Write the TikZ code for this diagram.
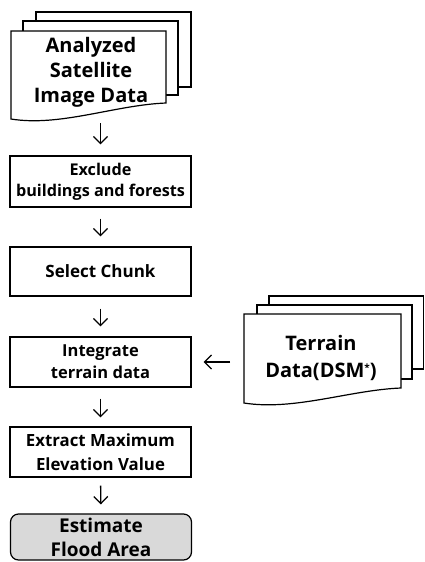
\documentclass[tikz,border=0pt]{standalone}
\usepackage{fontspec}
\setmainfont{Open Sans}
\usetikzlibrary{arrows.meta}
\begin{document}
\begin{tikzpicture}[x=1pt,y=-1pt,
  stepbox/.style={draw, line width=1.2pt, minimum width=181pt, inner sep=0pt, align=center},
  page/.style={draw, line width=1.2pt, fill=white},
  doctext/.style={align=center, inner sep=0pt, font=\bfseries\fontsize{20}{25}\selectfont},
  arr/.style={-{Straight Barb[length=7pt,width=14pt]}, line width=1.3pt},
]
\useasboundingbox (0,0) rectangle (424,562);
% top multi-document
\draw[page] (36,12) rectangle (191,87);
\draw[page] (23,21) rectangle (178,95);
\draw[page] (11,31) -- (166,31) -- (166,103) .. controls (115,105) and (60,127) .. (11,119) -- cycle;
\node[doctext] (doc1) at (91,72) {Analyzed\\Satellite\\Image Data};
\coordinate (doc1b) at (100.5,116);
% terrain multi-document
\draw[page] (269,296) rectangle (423.4,369);
\draw[page] (257,305) rectangle (412,379);
\draw[page] (244,314) -- (401,314) -- (401,388) .. controls (350,390) and (294,411) .. (244,403) -- cycle;
\node[doctext, font=\bfseries\fontsize{20}{27}\selectfont] (dsm) at (321,358) {Terrain\\Data(DSM\raisebox{6pt}{\fontsize{10}{10}\selectfont*})};
\coordinate (dsmw) at (244,362);
% process boxes
\node[stepbox, minimum height=51pt, font=\bfseries\fontsize{16.2}{21}\selectfont] (b1) at (100.5,181.5) {Exclude\\buildings and forests};
\node[stepbox, minimum height=49pt, font=\bfseries\fontsize{17}{22}\selectfont] (b2) at (100.5,271.5) {Select Chunk};
\node[stepbox, minimum height=50pt, font=\bfseries\fontsize{16.5}{22}\selectfont] (b3) at (100.5,362) {Integrate\\terrain data};
\node[stepbox, minimum height=50pt, font=\bfseries\fontsize{16.8}{24}\selectfont] (b4) at (100.5,452) {Extract Maximum\\Elevation Value};
\node[stepbox, minimum height=46pt, rounded corners=8pt, fill={rgb,255:red,217;green,217;blue,217}, font=\bfseries\fontsize{19}{24}\selectfont] (b5) at (101,537) {Estimate\\Flood Area};
% connectors
\draw[arr, shorten <=7pt, shorten >=11pt] (doc1b) -- (b1.north);
\draw[arr, shorten <=11pt, shorten >=10pt] (b1.south) -- (b2.north);
\draw[arr, shorten <=12pt, shorten >=10pt] (b2.south) -- (b3.north);
\draw[arr, shorten <=11pt, shorten >=9pt] (b3.south) -- (b4.north);
\draw[arr, shorten <=8pt, shorten >=9pt] (b4.south) -- (b5.north);
\draw[arr, shorten <=14pt, shorten >=12pt] (dsmw) -- (b3.east);
\end{tikzpicture}
\end{document}
